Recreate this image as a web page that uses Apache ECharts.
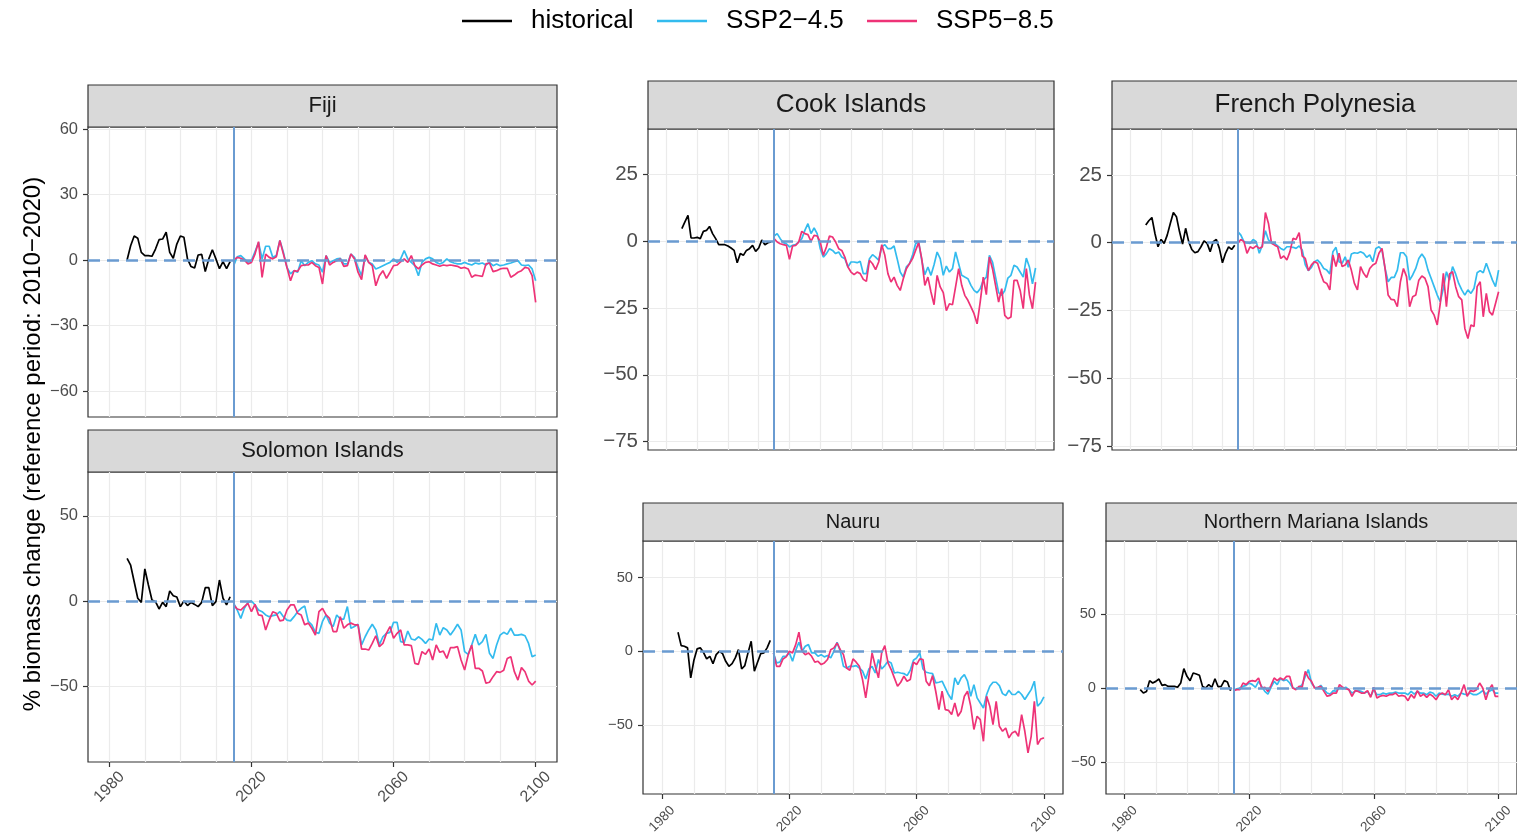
<!DOCTYPE html>
<html>
<head>
<meta charset="utf-8">
<script src="https://cdn.jsdelivr.net/npm/echarts@6/dist/echarts.min.js"></script>
<style>
html, body { margin: 0; padding: 0; background: #fff; }
#chart { width: 1517px; height: 837px; }
</style>
</head>
<body>
<div id="chart"></div>
<script>
// historical: 1985-2014, scenarios: 2015-2100
var fijiHist = [0, 6.5, 11, 10, 3.5, 2, 2, 1.7, 5, 9.3, 9.6, 12.7, 3.5, 0.8, 7.3, 11, 10.4, 0.5, -3, -3.7, 2.3, 2.6, -5.3, 0.5, 4.7, 0.5, -4, -0.8, -4, -0.8];
var fijiSsp245 = [-2.6, 1.5, 2, 0.5, -1, -0.3, 3.8, 8, 0.5, 6.3,
  6.3, 1.2, 2, 8.9, 3.5, -3.4, -6.4, -4.9, -5.6, -0.3,
  -2.6, -1.1, -0.3, -1.8, -2.3, -5.6, 2, -1.1, -0.3, 0.5,
  0.8, -1.8, -1.8, 2.7, 1.2, -3.4, -7.2, 2, -1.1, -1.8,
  -4.1, -3.4, -2.6, -1.8, -1.1, 0.5, -1.1, 0.5, 4.3, 0.5,
  -1.1, -2.6, -7.2, -1.1, 0.5, 1.2, 0.5, -1.1, -1.8, -1.1,
  0.5, -0.8, -1.4, -1.8, -1.8, -1.1, -1.8, -2.3, -1.4, -1.8,
  -1.4, -2.3, -1.1, -2.6, -1.8, -2.6, -2.3, -1.8, -1.4, -0.8,
  -0.3, -2.3, -2.6, -2.3, -4.1, -9.5];
var fijiSsp585 = [0, 1.2, 0.8, 0, -1.8, -1.1, 2.7, 8.4, -8, 2.7,
  1.2, 0.5, 1.5, 8.9, 2.7, -3.4, -9.5, -4.9, -5.2, -2.6,
  -2.3, -2.3, -1.1, -2.6, -3.4, -11, 2, -2.3, -1.1, -0.3,
  0.5, -2.9, -2.6, 2.7, 0.5, -5.6, -9, 2.3, -1.1, -2.6,
  -11.8, -7.2, -4.9, -8.4, -5.6, -2.6, -2.3, -0.8, 0.5, -1.1,
  2, -2.6, -4.1, -2.3, -1.1, -0.8, -1.8, -2.3, -2.9, -2.3,
  -2.6, -2.3, -2.6, -2.9, -3.8, -3.4, -4.1, -7.9, -6.9, -7.2,
  -7.5, -1.8, -1.4, -5.3, -4.9, -4.1, -3.8, -3.8, -7.9, -6.9,
  -5.6, -4.9, -3.4, -3.8, -7.2, -19.4];

var solHist = [25, 21, 11.3, 1.6, -0.8, 18.8, 9.4, 0.6, -0.4, -4.7, -0.8, -3.3, 5.9, 3.1, 2.3, -3.3, 0, -2.7, -0.8, -2, -3.3, -0.8, 7.8, 7.8, -2.7, -0.4, 12.3, 1.6, -2.3, 2.5];
var solSsp245 = [-1.4, -5.3, -10.2, -4.3, -0.8, 0, -2.3, -5.3, -6.3, -8.2,
  -9.2, -8.6, -8.2, -6.3, -9.2, -11.2, -11.7, -9.2, -6.3, -4.3,
  -3, -12, -14, -18.4, -19, -12, -8.2, -13, -15, -8.2,
  -10.6, -10.6, -3.3, -16, -15, -13.7, -25.8, -21, -17, -13.7,
  -17, -25.8, -21, -19, -18.4, -12.5, -12.5, -23.9, -24.3, -17.6,
  -22.3, -22.9, -21, -22.5, -24.9, -22.3, -22.9, -13.1, -20, -15.7,
  -17, -20, -17, -13.7, -17, -29.7, -31.3, -25.8, -19.6, -25.8,
  -23.9, -19.6, -30.7, -33.7, -25.8, -20, -18.4, -19.6, -16, -20,
  -20, -19.6, -20.4, -24.9, -32.7, -31.7];
var solSsp585 = [-2.3, -4.7, -5.3, -3.3, -1.4, -6.3, -2, -8.2, -8.6, -17,
  -11.2, -6.3, -7.2, -11.7, -11.2, -5.3, -2.3, -2.3, -7.2, -8.2,
  -14, -13, -16, -20, -6.3, -4.3, -8.2, -10.2, -18, -18,
  -9.2, -16, -14, -13, -14, -14, -28.2, -28.2, -28.8, -24.9,
  -20.4, -26.8, -24.9, -19, -15, -21.9, -19, -17, -25.8, -25.8,
  -26.2, -36.6, -37.2, -29.7, -31.3, -28.2, -34.6, -25.8, -30.1, -29.4,
  -33.7, -27.4, -27.4, -26.8, -34.6, -40.5, -31.7, -25.8, -39.5, -39.5,
  -41.1, -48.3, -47.7, -44.4, -41.5, -41.9, -40.7, -33.7, -32.7, -41.5,
  -46.4, -39.1, -41.5, -47, -49.3, -47];

var cookHist = [4.75, 7.3, 9.75, 1.25, 1.25, 1.5, 1, 3.75, 4.1, 5.6, 2.9, 1, -1.25, -1.25, -1.25, -1.75, -2.5, -3.4, -8, -4.6, -5.25, -3.4, -2.75, -1.5, -3.75, -2.5, 0.5, -1.25, -0.5, -0.25];
var cookSsp245 = [2, 2.9, 1, -0.5, -0.9, -2.1, -1.5, -1.25, -0.25, 1,
  4.1, 6.6, 2.9, 5, 2.9, -2.75, -5.9, -4.6, -2.75, -3.4,
  -4.6, -4, -5.9, -6.5, -9.6, -7.75, -7.75, -8, -7.5, -12.1,
  -12.1, -6.5, -5, -5.9, -7.1, -2.1, -1.25, -2.75, -2.75, -1.75,
  -6.5, -11.5, -13.4, -9.6, -8.4, -5.25, -0.9, -0.25, -7.1, -12.5,
  -9.6, -12.75, -8.75, -4, -6.5, -12.75, -9.25, -11.5, -10.25, -4,
  -8.4, -12.75, -13.4, -14, -16.5, -18.4, -19.25, -17.75, -14.6, -13.4,
  -5.25, -7.75, -13.4, -19.25, -20.25, -18.4, -13.75, -12.75, -9, -9.6,
  -11.5, -13.4, -6.25, -9.6, -15.9, -10];
var cookSsp585 = [1, -0.25, -0.9, -1.25, -1.5, -6.75, -1.75, -1.5, -0.25, 3.75,
  2.9, 2.5, 0, 2.25, 2, -0.25, -5.25, -2.1, 2, 1.6,
  -0.25, -2.75, -3.4, -5.9, -9.6, -11.5, -12.5, -11.5, -12.1, -14.25,
  -15, -7.1, -8.4, -10.6, -7.75, -1.25, -5.25, -12.1, -15.25, -13.4,
  -16.5, -18.4, -14, -10.25, -8.4, -6.5, -3.4, -0.5, -6.5, -16.5,
  -13.4, -19, -23.75, -12.75, -17.1, -19.25, -26, -23.4, -23.75, -17.1,
  -10.25, -16.5, -20.25, -22.1, -24.6, -27.1, -30.9, -22.75, -13.4, -20,
  -5.9, -10.25, -16.5, -22.75, -17.75, -27.75, -29, -28.4, -14.6, -14.6,
  -18.4, -25.25, -10.25, -20, -25.25, -15.25];

var fpHist = [6.5, 8.1, 9.3, 3.4, -1.5, 1.2, -0.25, 2.8, 7.1, 11.1, 9.6, 4.1, -0.5, 5.3, 0.4, -2.5, -3.7, -3.3, -1.5, 0.7, -0.25, -3.3, 0.4, 1.2, -2.1, -7.4, -3.9, -1.5, -2.5, -0.9];
var fpSsp245 = [4.1, 2.8, 0.4, 0, -0.25, 1.2, 0.4, -3.9, -0.9, 4.4,
  1, 0, -0.25, -1.2, -2.1, -2.7, -1.5, -1.5, -1.7, -2.1,
  -1.2, -2.7, -8.2, -10.3, -9.1, -7, -6.4, -7.6, -9.5, -10.1,
  -11.5, -3.3, -1.7, -7, -7.6, -5.2, -9.1, -4.2, -3.7, -3.9,
  -3.3, -3.9, -5.4, -4.5, -7, -2.1, -1.5, -2.7, -9.5, -14.4,
  -12.8, -12.8, -10.1, -3.7, -3.7, -5.2, -13.8, -11.9, -9.5, -5.8,
  -4.2, -5.8, -10.1, -13.1, -16.2, -19.3, -21.7, -16.8, -10.7, -13.8,
  -8.8, -11.5, -15, -17.4, -19.3, -17.4, -18.7, -16.8, -11.1, -10.3,
  -11.1, -7.6, -10.7, -13.8, -16.2, -10.1];
var fpSsp585 = [-0.25, 1.2, 0.4, -3.9, -1.5, -2.1, -1.2, -2.1, -1.5, 11.1,
  7.1, -0.25, -0.9, -1.5, -5.8, -4.9, -6.4, -3.3, 1.6, 1.2,
  3.7, -4.9, -5.8, -10.3, -8.2, -7, -7.6, -11.3, -14.4, -15,
  -17.4, -4.5, -8.8, -3.9, -8.8, -8.2, -6.4, -10.1, -15, -17.4,
  -8.8, -11.3, -12.8, -9.5, -8.2, -7.6, -3.9, -2.1, -9.5, -19.3,
  -20.9, -21.1, -23.6, -14.4, -9.5, -12.5, -23.6, -19.9, -19.3, -13.8,
  -12.3, -13.1, -16.2, -24.8, -26.7, -30.3, -22.4, -11.3, -23.6, -11.5,
  -10.7, -16.2, -19.9, -21.1, -31.6, -35.3, -30.3, -30.9, -16.2, -14.4,
  -27.3, -18.7, -25.4, -26.7, -22.4, -18.1];

var nauruHist = [12.9, 3.8, 3.4, 2.3, -18, -6.1, 1.6, 2.3, -0.7, -5.2, -3.4, -8.4, -2.3, 0, -1.6, -6.8, -10.2, -8.4, -4.5, 1.1, -12, -9.7, -1.1, 6.8, -13.5, -7.4, -1.6, -1.1, 2.3, 7.4];
var nauruSsp245 = [-1.1, -7.9, -7.4, -3.4, -3.4, -1.1, -6.8, 0.7, 6.1, 0,
  3.4, 4.5, -1.1, -1.1, -3.4, -2.3, -3.8, -2.9, -4.5, 0,
  6.1, 0, -10.2, -11.3, -10.2, -10.2, -9.7, -11.3, -13.5, -18.7,
  -12, -10.2, -14.7, -5.6, -12, -9.7, -6.8, -7.9, -14.7, -14.2,
  -14.7, -15.1, -16.5, -12.9, -6.1, -4.5, -1.1, -12, -14.2, -14.7,
  -15.1, -21.4, -21, -20.3, -24.8, -29.3, -32.7, -18, -22.6, -18,
  -15.8, -20.3, -30.5, -22.6, -31.6, -35, -38.4, -29.3, -23.7, -21,
  -21, -23.3, -28.7, -30, -26.4, -29.3, -29.3, -27.1, -29.3, -32.7,
  -29.3, -26, -20.3, -37.2, -35, -30.9];
var nauruSsp585 = [-1, -10.2, -10.2, -5.2, -3.8, 0, -1.1, 4.5, 12.9, 0,
  -2.3, -1.1, -3.4, -7.4, -6.8, -9, -7.9, -5.6, 1.1, 2.3,
  5.6, 1.1, -2.3, -11.3, -12.9, -5.2, -7.4, -10.2, -19.2, -31.6,
  -16.9, -1.1, -10.2, -18, -1.1, 3.8, -7.9, -12.4, -18, -23.7,
  -21, -16.9, -20.3, -19.2, -7.4, -9, -5.2, -5.6, -20.3, -23.3,
  -16.5, -27.1, -39.5, -27.1, -39.5, -40, -42.9, -35, -44, -40.6,
  -30.5, -27.1, -37.2, -53, -44, -46.3, -61, -30.5, -37.2, -49.7,
  -33.9, -50.8, -54.2, -52, -58.7, -55.3, -54.2, -57.6, -42.9, -54.2,
  -68.9, -57.6, -33.9, -63.2, -59.4, -58.7];

var nmiHist = [-1.1, -3.4, -2.3, 5, 3.4, 4.5, 6.1, 1.8, 2.3, 1.1, 1.1, 1.1, 0.5, 3.4, 13.1, 7.9, 5, 10.2, 9.5, 8.6, 1.1, 0, 2.3, 0.5, 6.3, 0.9, 1.1, 5, 4.1, -1.8];
var nmiSsp245 = [-1.8, -0.5, 0, 1.1, 1.8, 3.4, 2.3, 0.5, 4.5, 1.1,
  -2.3, -4.1, 0.5, 4.5, 2.3, 6.3, 5, 5.6, 3.4, 0,
  -0.5, 0.5, 2.3, 7.9, 12.4, 3.4, 0.5, 0, 1.8, -1.1,
  -3.4, -4.1, -1.8, -2.3, 0.5, -0.5, 0.5, -1.1, -3.4, -2.3,
  -1.8, -2.3, -3.4, -2.3, -5.6, -1.1, -4.5, -4.5, -3.4, -4.1,
  -3.4, -3.4, -2.8, -3.4, -3.4, -3.4, -4.5, -2.3, -4.1, -2.3,
  -3.4, -3.4, -4.5, -2.8, -3.4, -5.6, -3.4, -4.1, -4.5, -4.1,
  -5.6, -4.5, -5.6, -3.4, -4.1, -4.5, -3.4, -4.5, -4.5, -3.4,
  -1.8, -4.1, -2.3, -1.1, -3.4, -3.4];
var nmiSsp585 = [-1.8, -1.1, -1.1, 3.4, 2.3, 4.5, 5, 4.5, 6.8, 0,
  0.5, -2.3, 1.8, 6.8, 5, 6.8, 5.6, 7.9, 7.9, 0,
  -1.1, 1.1, 0.5, 11.3, 6.8, 4.5, 0, 0.5, 1.1, -2.3,
  -5.6, -5, -3.4, -3.4, 2.3, 0.5, -0.5, -1.1, -5.6, -1.8,
  -2.3, -3.4, -3.4, -1.8, -6.3, 0.5, -6.8, -5.6, -5, -5.6,
  -4.5, -4.5, -3.4, -5.6, -5, -5.6, -8.6, -4.5, -6.8, -1.8,
  -5.6, -4.1, -6.3, -4.1, -5.6, -7.9, -4.5, -3.4, -4.5, -1.1,
  -7.9, -5.6, -7.9, -3.4, 2.3, -5.6, -1.8, -2.3, -1.1, 3.4,
  0, -7.9, -1.1, 2.3, -5.6, -5.6];

// axis ticks
var fijiTicks = [-60, -30, 0, 30, 60];
var solTicks = [-50, 0, 50];
var cookTicks = [-75, -50, -25, 0, 25];
var fpTicks = [-75, -50, -25, 0, 25];
var nauruTicks = [-50, 0, 50];
var nmiTicks = [-50, 0, 50];
var xLabelYears = [1980, 2020, 2060, 2100];
var xGridYears = [1980, 1990, 2000, 2010, 2020, 2030, 2040, 2050, 2060, 2070, 2080, 2090, 2100];

var histYears = [], scenYears = [];
for (var yr = 1985; yr <= 2014; yr++) histYears.push(yr);
for (var yr = 2015; yr <= 2100; yr++) scenYears.push(yr);

var FONT = "'Liberation Sans', Arial, sans-serif";
var C_HIST = '#000000', C_245 = '#33BBEE', C_585 = '#EE3377', C_REF = '#6A9BD1';
var NAME_245 = 'SSP2\u22124.5', NAME_585 = 'SSP5\u22128.5';

// layout of the facets (px)
var panels = [
  {name: 'Fiji', hist: fijiHist, s245: fijiSsp245, s585: fijiSsp585, ticks: fijiTicks,
   left: 88, top: 127, width: 469, height: 290, strip: 42, yMin: -71.9, yMax: 60.9,
   stripFont: 22, tickFont: 16.5, xFont: 16, xLab: false},
  {name: 'Solomon Islands', hist: solHist, s245: solSsp245, s585: solSsp585, ticks: solTicks,
   left: 88, top: 472, width: 469, height: 290, strip: 42, yMin: -94.5, yMax: 75.7,
   stripFont: 22, tickFont: 16.5, xFont: 16, xLab: true},
  {name: 'Cook Islands', hist: cookHist, s245: cookSsp245, s585: cookSsp585, ticks: cookTicks,
   left: 648, top: 129, width: 406, height: 321, strip: 48, yMin: -78.2, yMax: 42.1,
   stripFont: 26, tickFont: 20.5, xFont: 16, xLab: false},
  {name: 'French Polynesia', hist: fpHist, s245: fpSsp245, s585: fpSsp585, ticks: fpTicks,
   left: 1112, top: 129, width: 406, height: 321, strip: 48, yMin: -76.4, yMax: 41.9,
   stripFont: 26, tickFont: 20.5, xFont: 16, xLab: false},
  {name: 'Nauru', hist: nauruHist, s245: nauruSsp245, s585: nauruSsp585, ticks: nauruTicks,
   left: 643, top: 541, width: 420, height: 253, strip: 38, yMin: -96.7, yMax: 74.7,
   stripFont: 20, tickFont: 14.7, xFont: 13.5, xLab: true},
  {name: 'Northern Mariana Islands', hist: nmiHist, s245: nmiSsp245, s585: nmiSsp585, ticks: nmiTicks,
   left: 1106, top: 541, width: 420, height: 253, strip: 38, yMin: -71.8, yMax: 99.6,
   stripFont: 20, tickFont: 14.7, xFont: 13.5, xLab: true}
];

function pairs(xs, ys) {
  return xs.map(function (x, i) { return [x, ys[i]]; });
}
function minusFmt(v) {
  return v < 0 ? '\u2212' + Math.abs(v) : String(v);
}

var grids = [], xAxes = [], yAxes = [], series = [], graphics = [];

panels.forEach(function (p, i) {
  grids.push({
    left: p.left, top: p.top, width: p.width, height: p.height,
    show: true, backgroundColor: '#fff', borderColor: '#333', borderWidth: 1.2
  });
  // x axis carrying the data and the 10-year grid lines
  xAxes.push({
    gridIndex: i, type: 'value', min: 1974, max: 2106, position: 'top',
    axisLine: {show: false},
    axisTick: {show: false, customValues: xGridYears},
    axisLabel: {show: false, customValues: xGridYears},
    splitLine: {show: true, lineStyle: {color: '#EBEBEB', width: 1.2}}
  });
  // x axis with the labelled ticks
  xAxes.push({
    gridIndex: i, type: 'value', min: 1974, max: 2106, position: 'bottom',
    show: p.xLab,
    axisLine: {show: false},
    axisTick: {show: true, customValues: xLabelYears, length: 5, lineStyle: {color: '#333', width: 1.2}},
    axisLabel: {customValues: xLabelYears, rotate: 45, margin: 25, align: 'center', verticalAlign: 'middle',
                fontSize: p.xFont, color: '#4D4D4D', fontFamily: FONT,
                formatter: function (v) { return String(v); }},
    splitLine: {show: false}
  });
  yAxes.push({
    gridIndex: i, type: 'value', min: p.yMin, max: p.yMax, position: 'left',
    axisLine: {show: false},
    axisTick: {show: true, customValues: p.ticks, length: 5, lineStyle: {color: '#333', width: 1.2}},
    axisLabel: {customValues: p.ticks, formatter: minusFmt, margin: 10, fontSize: p.tickFont,
                color: '#4D4D4D', fontFamily: FONT},
    splitLine: {show: true, lineStyle: {color: '#EBEBEB', width: 1.2}}
  });

  series.push({
    name: 'historical', type: 'line', xAxisIndex: 2 * i, yAxisIndex: i,
    data: pairs(histYears, p.hist), symbol: 'none', showSymbol: false,
    lineStyle: {color: C_HIST, width: 1.7}, itemStyle: {color: C_HIST},
    animation: false,
    markLine: {
      silent: true, symbol: ['none', 'none'], label: {show: false}, animation: false, z: 6,
      data: [
        {xAxis: 2015, lineStyle: {color: C_REF, width: 2, type: 'solid'}},
        {yAxis: 0, lineStyle: {color: C_REF, width: 2.5, type: [12, 7]}}
      ]
    }
  });
  series.push({
    name: NAME_245, type: 'line', xAxisIndex: 2 * i, yAxisIndex: i,
    data: pairs(scenYears, p.s245), symbol: 'none', showSymbol: false,
    lineStyle: {color: C_245, width: 1.7}, itemStyle: {color: C_245}, animation: false
  });
  series.push({
    name: NAME_585, type: 'line', xAxisIndex: 2 * i, yAxisIndex: i,
    data: pairs(scenYears, p.s585), symbol: 'none', showSymbol: false,
    lineStyle: {color: C_585, width: 1.7}, itemStyle: {color: C_585}, animation: false
  });

  // facet strip
  graphics.push({
    type: 'rect', shape: {x: p.left, y: p.top - p.strip, width: p.width, height: p.strip},
    style: {fill: '#D9D9D9', stroke: '#333', lineWidth: 1.2}, silent: true
  });
  graphics.push({
    type: 'text', x: p.left + p.width / 2, y: p.top - p.strip / 2, silent: true,
    style: {text: p.name, font: p.stripFont + 'px ' + FONT, fill: '#1A1A1A',
            textAlign: 'center', textVerticalAlign: 'middle'}
  });
});

// y axis title
graphics.push({
  type: 'text', x: 33, y: 444, rotation: Math.PI / 2, silent: true,
  style: {text: '% biomass change (reference period: 2010\u22122020)', font: '24px ' + FONT,
          fill: '#000', textAlign: 'center', textVerticalAlign: 'middle'}
});

function legendAt(name, left) {
  return {
    data: [name], left: left, top: 8, padding: 0, icon: 'rect',
    itemWidth: 50, itemHeight: 2.5, itemGap: 0,
    textStyle: {fontSize: 26, color: '#000', fontFamily: FONT, padding: [0, 0, 0, 14]}
  };
}

var chart = echarts.init(document.getElementById('chart'));
chart.setOption({
  animation: false,
  textStyle: {fontFamily: FONT},
  legend: [legendAt('historical', 462), legendAt(NAME_245, 657), legendAt(NAME_585, 867)],
  grid: grids,
  xAxis: xAxes,
  yAxis: yAxes,
  series: series,
  graphic: {elements: graphics}
});
</script>
</body>
</html>
